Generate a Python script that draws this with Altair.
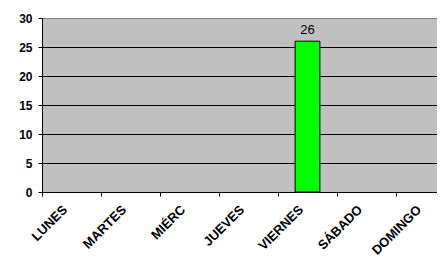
import altair as alt
import pandas as pd

days = ["LUNES", "MARTES", "MIÉRC", "JUEVES", "VIERNES", "SÁBADO", "DOMINGO"]
values = [None, None, None, None, 26, None, None]
y_ticks = [0, 5, 10, 15, 20, 25, 30]

df = pd.DataFrame({"day": days, "value": values})

FONT = "Liberation Sans"

x_enc = alt.X(
    "day:N",
    sort=days,
    scale=alt.Scale(domain=days, paddingInner=0, paddingOuter=0),
    axis=alt.Axis(
        title=None,
        labelAngle=-45,
        labelAlign="right",
        labelBaseline="top",
        labelFont=FONT,
        labelFontSize=13,
        labelFontWeight="bold",
        labelColor="black",
        labelPadding=7,
        labelOffset=-11,
        labelOverlap=False,
        tickBand="extent",
        tickColor="black",
        tickSize=4,
        domainColor="black",
        grid=False,
    ),
)

y_enc = alt.Y(
    "value:Q",
    scale=alt.Scale(domain=[0, 30], nice=False),
    axis=alt.Axis(
        title=None,
        values=y_ticks,
        labelFont=FONT,
        labelFontSize=12,
        labelFontWeight="bold",
        labelColor="black",
        labelPadding=6,
        labelOverlap=False,
        tickColor="black",
        tickSize=4,
        domainColor="black",
        grid=True,
        gridColor={"condition": {"test": "datum.value == 30", "value": "#808080"}, "value": "black"},
        gridOpacity=1,
    ),
)

base = alt.Chart(df).transform_filter("isValid(datum.value)").encode(x=x_enc, y=y_enc)

bars = base.mark_bar(color="#00FF00", stroke="black", strokeWidth=1, width={"band": 0.42})

labels = base.mark_text(
    font=FONT, fontSize=13, color="black", baseline="bottom", dy=-4
).encode(text="value:Q")

chart = (
    alt.layer(bars, labels)
    .properties(
        width=413,
        height=174,
        autosize=alt.AutoSizeParams(type="none"),
        padding={"left": 34, "top": 10, "right": -18, "bottom": 64},
        background="white",
    )
    .configure_view(fill="#C0C0C0", stroke="#808080", strokeWidth=1)
)

chart.save("out.html", embed_options={"renderer": "svg", "actions": False})
